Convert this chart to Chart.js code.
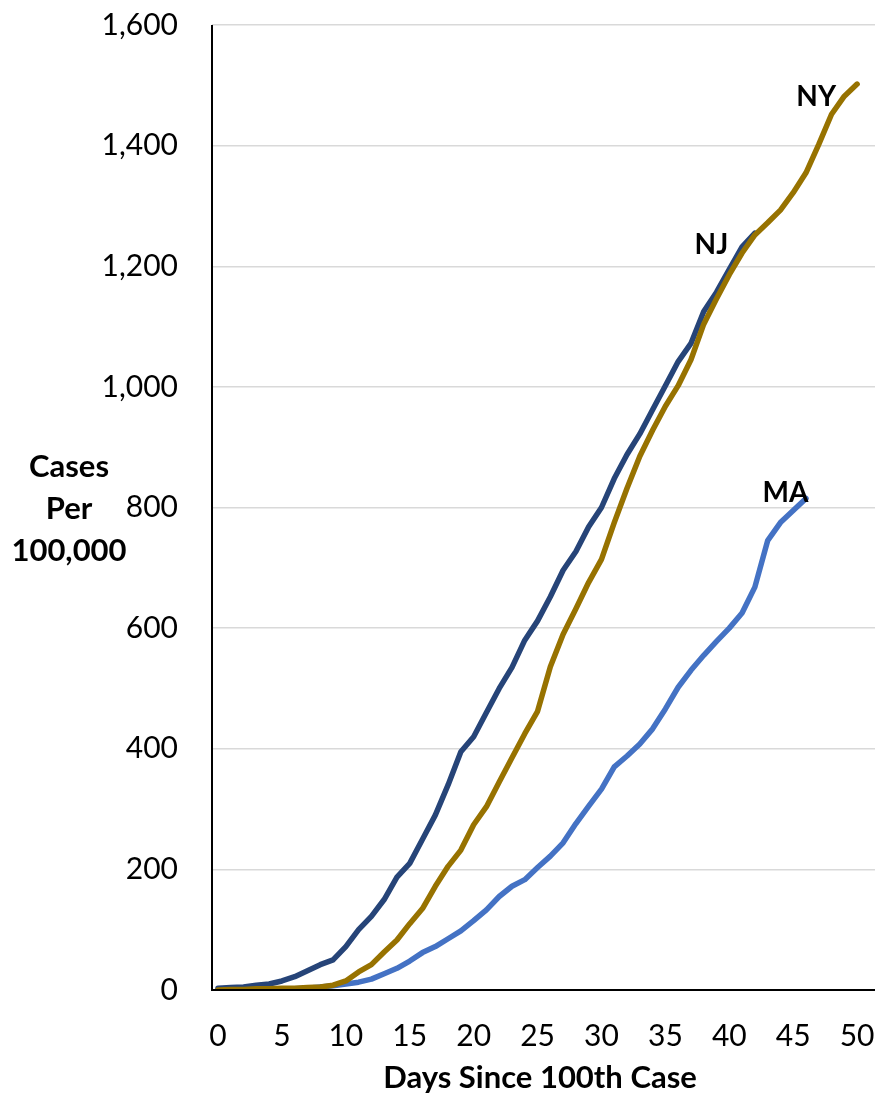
<!DOCTYPE html>
<html>
<head>
<meta charset="utf-8">
<script src="https://cdn.jsdelivr.net/npm/chart.js@4"></script>
<style>
  html, body { margin: 0; padding: 0; background: #ffffff; }
  #wrap { width: 875px; height: 1094px; position: relative; }
</style>
</head>
<body>
<div id="wrap"><canvas id="c" width="875" height="1094"></canvas></div>
<script>
// ---- data ----
const days = [0,1,2,3,4,5,6,7,8,9,10,11,12,13,14,15,16,17,18,19,20,21,22,23,24,25,26,27,28,29,30,31,32,33,34,35,36,37,38,39,40,41,42,43,44,45,46,47,48,49,50];
const nyCases = [0,1,1,2,2,3,3,4,5,8,15,30,42,63,83,110,135,172,205,232,274,304,345,385,425,462,536,590,632,676,714,775,832,885,928,968,1002,1045,1104,1146,1186,1222,1252,1272,1293,1322,1355,1402,1452,1482,1502];
const njCases = [3,4,5,8,10,15,22,32,42,50,72,100,122,150,187,210,250,290,340,395,420,460,500,535,580,612,652,696,727,768,800,848,888,922,962,1002,1042,1072,1125,1157,1195,1232,1255];
const maCases = [0,0,0,0,1,1,2,3,5,7,10,13,18,27,36,48,62,72,85,98,115,133,155,172,183,203,222,244,276,305,333,370,388,408,433,466,502,530,555,578,600,625,668,745,775,795,815];
const seriesNames = ["NY", "NJ", "MA"];
const xTicks = [0,5,10,15,20,25,30,35,40,45,50];
const yTicks = [0,200,400,600,800,1000,1200,1400,1600];
const xTitle = "Days Since 100th Case";
const yTitleLines = ["Cases", "Per", "100,000"];

// ---- build ----
function toPoints(vals) { return vals.map((v, i) => ({ x: days[i], y: v })); }
const colors = { NY: "#977200", NJ: "#264478", MA: "#4472C4" };
const seriesData = { NY: nyCases, NJ: njCases, MA: maCases };

const FONT = "Lato, 'Open Sans', sans-serif";

const labelPlugin = {
  id: "seriesLabels",
  afterDatasetsDraw(chart) {
    const ctx = chart.ctx;
    ctx.save();
    ctx.fillStyle = "#000";
    ctx.font = "bold 28px " + FONT;
    ctx.textBaseline = "middle";
    ctx.textAlign = "center";
    const xs = chart.scales.x, ys = chart.scales.y;
    const anchors = { NY: [46.8, 1481], NJ: [38.6, 1235], MA: [44.4, 824] };
    seriesNames.forEach(n => {
      const a = anchors[n];
      ctx.fillText(n, xs.getPixelForValue(a[0]), ys.getPixelForValue(a[1]));
    });
    ctx.restore();
  },
  afterDraw(chart) {
    const ctx = chart.ctx;
    const area = chart.chartArea;
    ctx.save();
    ctx.strokeStyle = "#000";
    ctx.lineWidth = 2;
    ctx.beginPath();
    ctx.moveTo(area.left, area.top);
    ctx.lineTo(area.left, area.bottom);
    ctx.lineTo(area.right, area.bottom);
    ctx.stroke();
    ctx.fillStyle = "#000";
    ctx.font = "bold 31px " + FONT;
    ctx.textAlign = "center";
    ctx.textBaseline = "middle";
    const ys = [467, 509, 551];
    yTitleLines.forEach((t, i) => ctx.fillText(t, 69, ys[i]));
    ctx.fillText(xTitle, 540, 1078);
    ctx.restore();
  }
};

new Chart(document.getElementById("c"), {
  type: "line",
  data: {
    datasets: seriesNames.map(n => ({
      label: n,
      data: toPoints(seriesData[n]),
      borderColor: colors[n],
      backgroundColor: colors[n],
      borderWidth: 5.5,
      pointRadius: 0,
      tension: 0,
      fill: false,
      borderCapStyle: "round",
      borderJoinStyle: "round"
    }))
  },
  options: {
    responsive: false,
    animation: false,
    devicePixelRatio: 1,
    layout: { padding: { left: 0, right: 0, top: 25, bottom: 0 } },
    plugins: { legend: { display: false }, tooltip: { enabled: false } },
    scales: {
      x: {
        type: "linear",
        min: -0.47,
        max: 51.4,
        afterBuildTicks(scale) { scale.ticks = xTicks.map(v => ({ value: v })); },
        afterFit(scale) { scale.height = 104; scale.paddingLeft = 0; scale.paddingRight = 0; },
        grid: { display: false, drawTicks: false },
        border: { display: false },
        ticks: {
          color: "#000",
          font: { family: FONT, size: 30 },
          padding: 28,
          maxRotation: 0,
          autoSkip: false
        }
      },
      y: {
        type: "linear",
        min: 0,
        max: 1600,
        afterBuildTicks(scale) { scale.ticks = yTicks.map(v => ({ value: v })); },
        afterFit(scale) { scale.width = 212; scale.paddingTop = 0; scale.paddingBottom = 0; },
        grid: { color: "#D9D9D9", lineWidth: 1.5, drawTicks: false },
        border: { display: false },
        ticks: {
          color: "#000",
          font: { family: FONT, size: 30 },
          padding: 34,
          callback: v => v.toLocaleString("en-US")
        }
      }
    }
  },
  plugins: [labelPlugin]
});
</script>
</body>
</html>
